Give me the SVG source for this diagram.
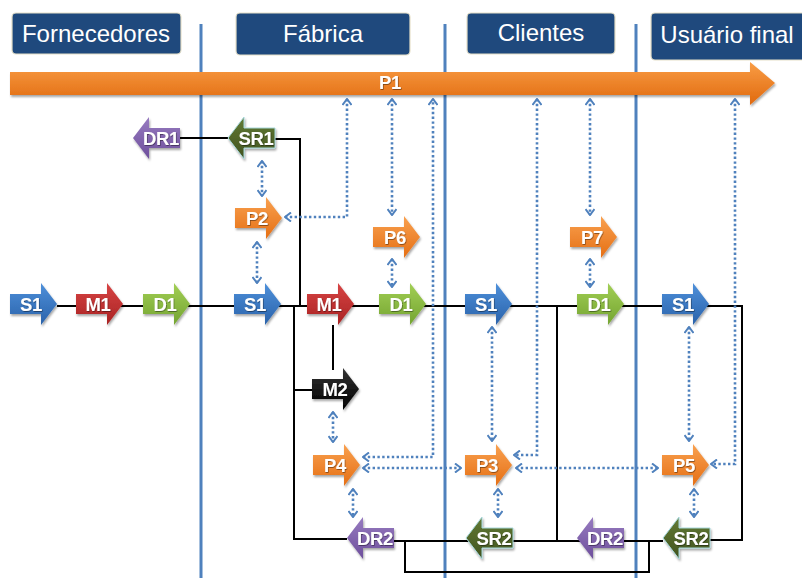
<svg xmlns="http://www.w3.org/2000/svg" xmlns:xlink="http://www.w3.org/1999/xlink" width="802" height="578" viewBox="0 0 802 578">
<style>
.hdr{fill:#1F497D;stroke:#E6E0C8;stroke-width:1.2}
.htxt{fill:#fff;font-family:"Liberation Sans",Arial,sans-serif;font-size:24px;text-anchor:middle}
.lane{stroke:#4F81BD;stroke-width:3;fill:none}
.blk{stroke:#000;stroke-width:2;fill:none}
.dot{stroke:#4F81BD;stroke-width:2.6;stroke-dasharray:2.4 2.4;fill:none;marker-start:url(#ch);marker-end:url(#ch)}
.lbl{fill:#fff;font-family:"Liberation Sans",Arial,sans-serif;font-weight:bold;font-size:18.5px;letter-spacing:-0.3px;text-anchor:middle;filter:url(#ts)}
.blue{fill:url(#gBlue)}
.red{fill:url(#gRed)}
.green{fill:url(#gGreen)}
.orange{fill:url(#gOrange)}
.purple{fill:url(#gPurple)}
.dkgreen{fill:url(#gDk);stroke:#A8D8DC;stroke-width:1}
.black{fill:url(#gBlack)}
</style>
<defs>
<linearGradient id="gBlue" x1="0" y1="0" x2="0" y2="1"><stop offset="0" stop-color="#4E90DA"/><stop offset="1" stop-color="#2A62AA"/></linearGradient>
<linearGradient id="gRed" x1="0" y1="0" x2="0" y2="1"><stop offset="0" stop-color="#D84444"/><stop offset="1" stop-color="#A82222"/></linearGradient>
<linearGradient id="gGreen" x1="0" y1="0" x2="0" y2="1"><stop offset="0" stop-color="#A2CF55"/><stop offset="1" stop-color="#74A431"/></linearGradient>
<linearGradient id="gOrange" x1="0" y1="0" x2="0" y2="1"><stop offset="0" stop-color="#F9A150"/><stop offset="1" stop-color="#E56F14"/></linearGradient>
<linearGradient id="gPurple" x1="0" y1="0" x2="0" y2="1"><stop offset="0" stop-color="#977BC0"/><stop offset="1" stop-color="#6E4F9C"/></linearGradient>
<linearGradient id="gDk" x1="0" y1="0" x2="0" y2="1"><stop offset="0" stop-color="#627A34"/><stop offset="1" stop-color="#415320"/></linearGradient>
<linearGradient id="gBlack" x1="0" y1="0" x2="0" y2="1"><stop offset="0" stop-color="#333"/><stop offset="1" stop-color="#000"/></linearGradient>
<linearGradient id="gP1" x1="0" y1="0" x2="0" y2="1"><stop offset="0" stop-color="#F99D45"/><stop offset="1" stop-color="#E0690E"/></linearGradient>
<filter id="sh" x="-20%" y="-20%" width="140%" height="150%"><feDropShadow dx="1" dy="2" stdDeviation="1.2" flood-color="#000" flood-opacity="0.35"/></filter>
<filter id="ts" x="-20%" y="-30%" width="140%" height="160%"><feDropShadow dx="0.6" dy="0.8" stdDeviation="0.5" flood-color="#000" flood-opacity="0.5"/></filter>
<marker id="ch" viewBox="0 0 10 10" refX="9" refY="5" markerWidth="10" markerHeight="10" markerUnits="userSpaceOnUse" orient="auto-start-reverse"><path d="M3,0.5 L9,5 L3,9.5" fill="none" stroke="#4F81BD" stroke-width="2"/></marker>
<path id="ra" d="M0,-10 H31 V-21 L47,0 L31,21 V10 H0 Z"/>
<path id="la" d="M47,-10 H16 V-21 L0,0 L16,21 V10 H47 Z"/>
</defs>
<rect width="802" height="578" fill="#fff"/>

<g id="headers">
<g id="h_fornecedores"><rect class="hdr" x="12" y="13" width="169" height="41" rx="4"/><text class="htxt" x="96" y="42">Fornecedores</text></g>
<g id="h_fabrica"><rect class="hdr" x="236" y="13" width="174" height="42" rx="4"/><text class="htxt" x="323" y="42">Fábrica</text></g>
<g id="h_clientes"><rect class="hdr" x="467" y="13" width="148" height="41" rx="4"/><text class="htxt" x="541" y="41">Clientes</text></g>
<g id="h_usuario"><rect class="hdr" x="651" y="13" width="156" height="47" rx="4"/><text class="htxt" x="727" y="43">Usuário final</text></g>
</g>

<g id="lanes">
<line class="lane" x1="201" y1="24" x2="201" y2="578"/>
<line class="lane" x1="445" y1="24" x2="445" y2="578"/>
<line class="lane" x1="636" y1="24" x2="636" y2="578"/>
</g>

<g id="connectors">
<path class="blk" d="M57,306 H742 V540 H709"/>
<path class="blk" d="M179,138 H228"/>
<path class="blk" d="M274,139 H300 V306"/>
<path class="blk" d="M294,306 V539 H347"/>
<path class="blk" d="M294,390 H314"/>
<path class="blk" d="M333,325 V370"/>
<path class="blk" d="M393,541 H663"/>
<path class="blk" d="M557,306 V541"/>
<path class="blk" d="M405,541 V572 H649 V541"/>
<path class="dot" d="M262,161 V196"/>
<path class="dot" d="M257,242 V283"/>
<path class="dot" d="M285,217 H347 V99"/>
<path class="dot" d="M392,99 V215"/>
<path class="dot" d="M392,259 V287"/>
<path class="dot" d="M363,457 H433 V99"/>
<path class="dot" d="M363,468 H461"/>
<path class="dot" d="M333,412 V442"/>
<path class="dot" d="M353,489 V517"/>
<path class="dot" d="M492,327 V441"/>
<path class="dot" d="M537,99 V455 H514"/>
<path class="dot" d="M516,468 H658"/>
<path class="dot" d="M498,489 V517"/>
<path class="dot" d="M590,99 V215"/>
<path class="dot" d="M590,259 V287"/>
<path class="dot" d="M689,327 V441"/>
<path class="dot" d="M735,99 V464 H711"/>
<path class="dot" d="M694,489 V517"/>
</g>

<g id="P1" filter="url(#sh)">
<path d="M10,72 H750 V62 L775,83 L750,105 V95 H10 Z" fill="url(#gP1)"/>
<text class="lbl" x="390" y="89">P1</text>
</g>

<g id="S1_forn" transform="translate(10,304)"><use href="#ra" class="blue" filter="url(#sh)"/><text class="lbl" x="21" y="7">S1</text></g>
<g id="M1_forn" transform="translate(76,304)"><use href="#ra" class="red" filter="url(#sh)"/><text class="lbl" x="22" y="7">M1</text></g>
<g id="D1_forn" transform="translate(143,304)"><use href="#ra" class="green" filter="url(#sh)"/><text class="lbl" x="22" y="7">D1</text></g>
<g id="S1_fab" transform="translate(234,304)"><use href="#ra" class="blue" filter="url(#sh)"/><text class="lbl" x="21" y="7">S1</text></g>
<g id="M1_fab" transform="translate(307,304)"><use href="#ra" class="red" filter="url(#sh)"/><text class="lbl" x="22" y="7">M1</text></g>
<g id="D1_fab" transform="translate(379,304)"><use href="#ra" class="green" filter="url(#sh)"/><text class="lbl" x="22" y="7">D1</text></g>
<g id="S1_cli" transform="translate(465,304)"><use href="#ra" class="blue" filter="url(#sh)"/><text class="lbl" x="21" y="7">S1</text></g>
<g id="D1_cli" transform="translate(577,304)"><use href="#ra" class="green" filter="url(#sh)"/><text class="lbl" x="22" y="7">D1</text></g>
<g id="S1_usu" transform="translate(662,304)"><use href="#ra" class="blue" filter="url(#sh)"/><text class="lbl" x="21" y="7">S1</text></g>
<g id="DR1" transform="translate(133,138)"><use href="#la" class="purple" filter="url(#sh)"/><text class="lbl" x="28" y="7">DR1</text></g>
<g id="SR1" transform="translate(228,138)"><use href="#la" class="dkgreen" filter="url(#sh)"/><text class="lbl" x="28" y="7">SR1</text></g>
<g id="P2" transform="translate(235,218)"><use href="#ra" class="orange" filter="url(#sh)"/><text class="lbl" x="22" y="7">P2</text></g>
<g id="P6" transform="translate(373,237)"><use href="#ra" class="orange" filter="url(#sh)"/><text class="lbl" x="22" y="7">P6</text></g>
<g id="P7" transform="translate(570,237)"><use href="#ra" class="orange" filter="url(#sh)"/><text class="lbl" x="22" y="7">P7</text></g>
<g id="M2" transform="translate(312,389)"><use href="#ra" class="black" filter="url(#sh)"/><text class="lbl" x="23" y="7">M2</text></g>
<g id="P4" transform="translate(313,465)"><use href="#ra" class="orange" filter="url(#sh)"/><text class="lbl" x="22" y="7">P4</text></g>
<g id="P3" transform="translate(465,465)"><use href="#ra" class="orange" filter="url(#sh)"/><text class="lbl" x="22" y="7">P3</text></g>
<g id="P5" transform="translate(662,465)"><use href="#ra" class="orange" filter="url(#sh)"/><text class="lbl" x="22" y="7">P5</text></g>
<g id="DR2_fab" transform="translate(347,538)"><use href="#la" class="purple" filter="url(#sh)"/><text class="lbl" x="28" y="7">DR2</text></g>
<g id="SR2_cli" transform="translate(466,538)"><use href="#la" class="dkgreen" filter="url(#sh)"/><text class="lbl" x="28" y="7">SR2</text></g>
<g id="DR2_cli" transform="translate(577,538)"><use href="#la" class="purple" filter="url(#sh)"/><text class="lbl" x="28" y="7">DR2</text></g>
<g id="SR2_usu" transform="translate(663,538)"><use href="#la" class="dkgreen" filter="url(#sh)"/><text class="lbl" x="28" y="7">SR2</text></g>
</svg>
